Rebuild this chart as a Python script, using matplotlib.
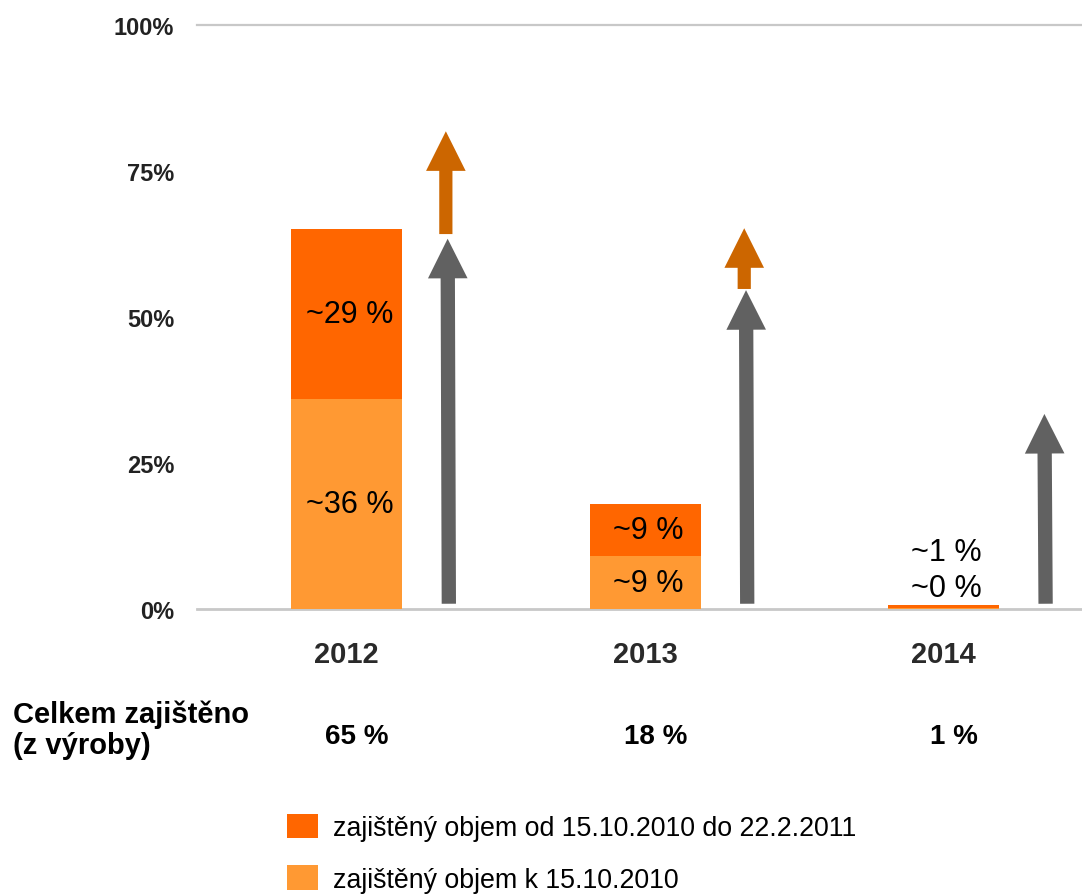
import matplotlib
matplotlib.use("Agg")
import matplotlib.pyplot as plt
from matplotlib.patches import FancyArrowPatch, ArrowStyle

plt.rcParams['font.family'] = ['Liberation Sans', 'DejaVu Sans']

years = ["2012", "2013", "2014"]
hedged_before = [36, 9, 0.1]      # zajištěný objem k 15.10.2010
hedged_after = [29, 9, 0.6]       # zajištěný objem od 15.10.2010 do 22.2.2011
labels_before = ["~36 %", "~9 %", "~0 %"]
labels_after = ["~29 %", "~9 %", "~1 %"]
totals = ["65 %", "18 %", "1 %"]
grey_top = [63.4, 54.6, 33.4]     # šedé šipky
orange_from = [64.2, 54.8]        # oranžové šipky (2012, 2013)
orange_to = [81.8, 65.2]

c_after = "#FF6600"
c_before = "#FF9933"
c_grey = "#616161"
c_arrow = "#CC6600"

fig = plt.figure(figsize=(10.82, 8.95), dpi=100)
ax = fig.add_axes([197 / 1082, 285 / 895, 885 / 1082, 584 / 895])

x = list(range(len(years)))
b1 = ax.bar(x, hedged_before, width=0.372, color=c_before, zorder=2,
            label="zajištěný objem k 15.10.2010")
b2 = ax.bar(x, hedged_after, width=0.372, bottom=hedged_before, color=c_after,
            zorder=2, label="zajištěný objem od 15.10.2010 do 22.2.2011")

ax.axhline(0, color="#c8c8c8", lw=2, zorder=1, clip_on=False)
ax.axhline(100, color="#c8c8c8", lw=1.6, zorder=1, clip_on=False)

for i in x:
    top = hedged_before[i] + hedged_after[i]
    if top > 5:
        yb = hedged_before[i] / 2
        ya = hedged_before[i] + hedged_after[i] / 2
    else:
        yb = top + 2.9
        ya = top + 9.1
    ax.text(i + 0.01, yb, labels_before[i], ha="center", va="center", fontsize=22, zorder=3)
    ax.text(i + 0.01, ya, labels_after[i], ha="center", va="center", fontsize=22, zorder=3)

grey_style = ArrowStyle.Simple(head_length=28.5, head_width=28.5, tail_width=10.3)
orange_style = ArrowStyle.Simple(head_length=28.5, head_width=28.5, tail_width=9.5)
for i in x:
    ax.add_patch(FancyArrowPatch((i + 0.342, 0.9), (i + 0.338, grey_top[i]),
                                 arrowstyle=grey_style, mutation_scale=1,
                                 color=c_grey, lw=0, shrinkA=0, shrinkB=0, zorder=3))
for i in range(len(orange_from)):
    ax.add_patch(FancyArrowPatch((i + 0.332, orange_from[i]), (i + 0.332, orange_to[i]),
                                 arrowstyle=orange_style, mutation_scale=1,
                                 color=c_arrow, lw=0, shrinkA=0, shrinkB=0, zorder=3))

ax.set_xlim(-0.502, 2.464)
ax.set_ylim(0, 100)
ax.set_yticks([0, 25, 50, 75, 100])
ax.set_yticklabels(["0%", "25%", "50%", "75%", "100%"], fontsize=17,
                   fontweight="bold", color="#222222")
ax.set_xticks(x)
ax.set_xticklabels(years, fontsize=21, fontweight="bold", color="#2a2a2a")
ax.tick_params(axis="y", length=0, pad=16.5)
ax.tick_params(axis="x", length=0, pad=22)
for s in ax.spines.values():
    s.set_visible(False)

for i in x:
    ax.text(i + 0.035, -0.217, totals[i], transform=ax.get_xaxis_transform(),
            ha="center", va="center", fontsize=20, fontweight="bold")

fig.text(13 / 1082, 1 - 730 / 895, "Celkem zajištěno\n(z výroby)", ha="left",
         va="center", fontsize=21, fontweight="bold", linespacing=1.15)

fig.legend(handles=[b2, b1], loc="upper left", bbox_to_anchor=(287 / 1082, 1 - 815 / 895),
           frameon=False, fontsize=19.3, borderpad=0, borderaxespad=0,
           handlelength=1.15, handleheight=1.02, handletextpad=0.58, labelspacing=0.9)

fig.savefig("out.png", dpi=100)
